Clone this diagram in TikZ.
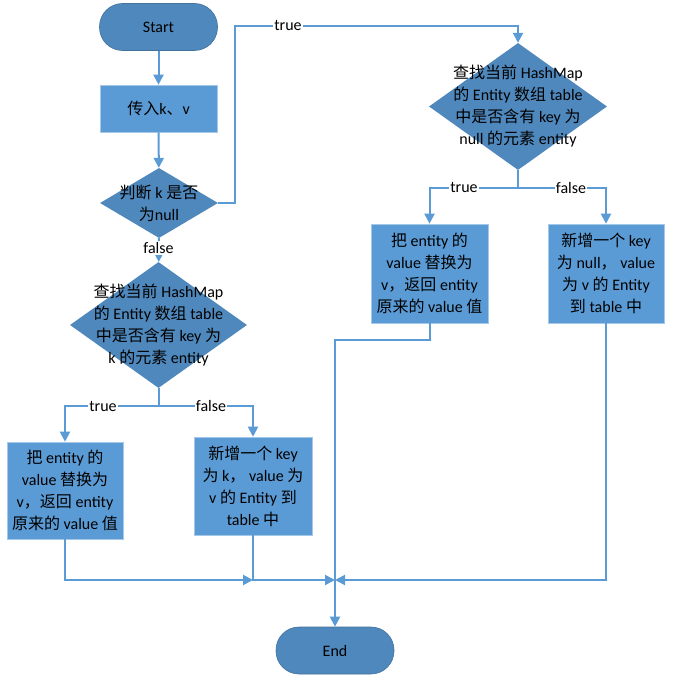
\documentclass[tikz,border=0pt]{standalone}
\usepackage{fontspec}
\setmainfont{Carlito}
\newfontfamily\cjk{Noto Sans CJK SC}
\usetikzlibrary{shapes.geometric,arrows.meta}
\definecolor{boxblue}{RGB}{91,155,213}
\definecolor{darkblue}{RGB}{79,136,188}
\definecolor{edgeblue}{RGB}{65,113,156}
\newcommand{\zh}[1]{{\cjk #1}}
\tikzset{
  term/.style={draw=edgeblue, fill=darkblue, rounded corners=23pt, minimum width=118pt, minimum height=47pt, line width=0.6pt, font=\fontsize{16}{18}\selectfont},
  stepbox/.style={draw=boxblue!55!white, fill=boxblue, minimum width=117pt, minimum height=98pt, line width=0.6pt},
  decision/.style={diamond, fill=darkblue, inner sep=0pt},
  txt/.style={align=center, font=\fontsize{16}{22}\selectfont},
  lbl/.style={fill=white, inner sep=1pt, font=\fontsize{16}{18}\selectfont},
  flow/.style={draw=boxblue, line width=2pt, -{Triangle[width=10pt,length=10pt]}},
}

\begin{document}
\begin{tikzpicture}[x=1pt, y=-1pt]
	\useasboundingbox (0,0) rectangle (672,684) ;
	% left column
	\node[term] (start) at (158.5,27) {Start} ;
	\node[stepbox, minimum height=47pt, txt] (input) at (158.5,108.5) {\zh{传入}k\zh{、}v} ;
	\node[decision, minimum width=118pt, minimum height=70pt] (isnull) at (159,203) {} ;
	\node[txt] (isnullT) at (isnull) {\zh{判断} k \zh{是否}\\\zh{为}null} ;
	\node[decision, minimum width=177pt, minimum height=126pt] (findk) at (158.5,325) {} ;
	\node[txt] (findkT) at (findk) {\zh{查找当前} HashMap\\\zh{的} Entity \zh{数组} table\\\zh{中是否含有} key \zh{为}\\k \zh{的元素} entity} ;
	\node[stepbox, minimum width=116pt, minimum height=97pt, txt] (repk) at (65,490.5) {\zh{把} entity \zh{的}\\value \zh{替换为}\\v\zh{，返回} entity\\\zh{原来的} value \zh{值}} ;
	\node[stepbox, minimum width=118pt, txt] (addk) at (253,486) {\zh{新增一个} key\\\zh{为} k\zh{，} value \zh{为}\\v \zh{的} Entity \zh{到}\\table \zh{中}} ;
	% right column
	\node[decision, minimum width=178pt, minimum height=127pt] (findnull) at (518,106.5) {} ;
	\node[txt] (findnullT) at (findnull) {\zh{查找当前} HashMap\\\zh{的} Entity \zh{数组} table\\\zh{中是否含有} key \zh{为}\\null \zh{的元素} entity} ;
	\node[stepbox, minimum height=99pt, txt] (repnull) at (429.5,273.5) {\zh{把} entity \zh{的}\\value \zh{替换为}\\v\zh{，返回} entity\\\zh{原来的} value \zh{值}} ;
	\node[stepbox, minimum width=116pt, minimum height=99pt, txt] (addnull) at (606,273.5) {\zh{新增一个} key\\\zh{为} null\zh{，} value\\\zh{为} v \zh{的} Entity\\\zh{到} table \zh{中}} ;
	\node[term] (end) at (335,650.5) {End} ;
	\coordinate (m1) at (253,580) ;
	\coordinate (m2) at (335,580) ;
	% connectors
	\draw[flow] (start) -- (input) ;
	\draw[flow] (input) -- (isnull) ;
	\draw[flow] (isnull.east) -| (235,26) -| (findnull.north) ;
	\node[lbl] (lt1) at (288,26) {true} ;
	\draw[flow] (isnull) -- (findk) ;
	\node[lbl] (lf1) at (158.5,248) {false} ;
	\draw[flow] (findk.south) -- ++(0,18) -| (repk.north) ;
	\draw[flow] (findk.south) -- ++(0,18) -| (addk.north) ;
	\node[lbl] (lt2) at (103,406) {true} ;
	\node[lbl] (lf2) at (211,406) {false} ;
	\draw[flow] (findnull.south) -- ++(0,18) -| (repnull.north) ;
	\draw[flow] (findnull.south) -- ++(0,18) -| (addnull.north) ;
	\node[lbl] (lt3) at (464,188) {true} ;
	\node[lbl] (lf3) at (571,188) {false} ;
	\draw[flow] (repk.south) |- (m1) ;
	\draw[flow] (addk.south) |- (m2) ;
	\draw[flow] (addnull.south) |- (m2) ;
	\draw[flow] (repnull.south) -- ++(0,17) -| (end.north) ;
\end{tikzpicture}
\end{document}
